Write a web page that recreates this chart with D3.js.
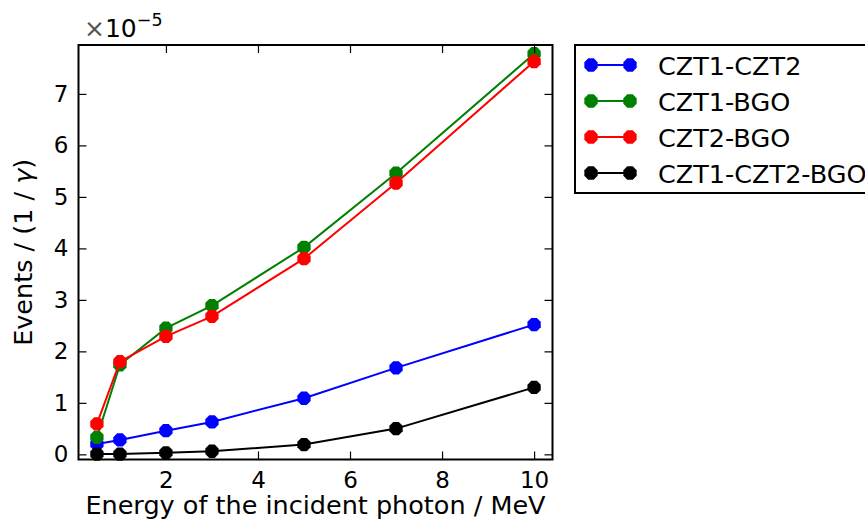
<!DOCTYPE html>
<html>
<head>
<meta charset="utf-8">
<script src="https://cdn.jsdelivr.net/npm/d3@7"></script>
<style>
  html, body { margin: 0; padding: 0; background: #fff; }
  svg { display: block; font-family: "DejaVu Sans", sans-serif; }
</style>
</head>
<body>
<svg id="chart" width="865" height="524"></svg>
<script>
// Photon energies (MeV)
const energies = [0.5, 1, 2, 3, 5, 7, 10];

// Coincidence event rates, in units of 1e-5 per incident photon
const czt1Czt2    = [0.20, 0.28, 0.46, 0.63, 1.09, 1.68, 2.52];
const czt1Bgo     = [0.33, 1.74, 2.45, 2.89, 4.02, 5.46, 7.78];
const czt2Bgo     = [0.59, 1.80, 2.29, 2.68, 3.80, 5.27, 7.63];
const czt1Czt2Bgo = [0.005, 0.005, 0.03, 0.06, 0.19, 0.50, 1.30];

const seriesNames  = ["CZT1-CZT2", "CZT1-BGO", "CZT2-BGO", "CZT1-CZT2-BGO"];
const seriesValues = [czt1Czt2, czt1Bgo, czt2Bgo, czt1Czt2Bgo];
const seriesColors = ["#0000ff", "#008000", "#ff0000", "#000000"];

const xTicks = [2, 4, 6, 8, 10];
const yTicks = [0, 1, 2, 3, 4, 5, 6, 7];

const svg = d3.select("#chart");
const plot = { left: 78.5, right: 552.5, top: 45, bottom: 459.5 };

const x = d3.scaleLinear().domain([0.1, 10.4]).range([plot.left, plot.right]);
const y = d3.scaleLinear().domain([-0.1, 7.95]).range([plot.bottom, plot.top]);

const tickLen = 8;
const tickFont = 23;
const labelFont = 25.5;

// Octagon marker path with flat top/bottom
function octagon(r) {
  const pts = d3.range(8).map(k => {
    const a = Math.PI / 8 + k * Math.PI / 4;
    return [r * Math.cos(a), r * Math.sin(a)];
  });
  return "M" + pts.map(p => p.join(",")).join("L") + "Z";
}
const markerPath = octagon(7.2);

// Series lines and markers
const line = d3.line().x((d, i) => x(energies[i])).y(d => y(d));
seriesValues.forEach((vals, s) => {
  const g = svg.append("g");
  g.append("path")
    .datum(vals)
    .attr("d", line)
    .attr("fill", "none")
    .attr("stroke", seriesColors[s])
    .attr("stroke-width", 2);
  g.selectAll("path.mk")
    .data(vals)
    .join("path")
    .attr("class", "mk")
    .attr("d", markerPath)
    .attr("transform", (d, i) => `translate(${x(energies[i])},${y(d)})`)
    .attr("fill", seriesColors[s]);
});

// Axes (ticks pointing inward on all sides)
const axisBottom = d3.axisBottom(x).tickValues(xTicks).tickSize(-tickLen).tickPadding(12).tickFormat(d3.format("d"));
const axisTop = d3.axisTop(x).tickValues(xTicks).tickSize(-tickLen).tickFormat("");
const axisLeft = d3.axisLeft(y).tickValues(yTicks).tickSize(-tickLen).tickPadding(10).tickFormat(d3.format("d"));
const axisRight = d3.axisRight(y).tickValues(yTicks).tickSize(-tickLen).tickFormat("");

function styleAxis(g) {
  g.select(".domain").remove();
  g.selectAll(".tick line").attr("stroke", "#000").attr("stroke-width", 1.2);
  g.selectAll(".tick text").attr("fill", "#000").style("font-size", tickFont + "px").style("font-family", "DejaVu Sans");
}
svg.append("g").attr("transform", `translate(0,${plot.bottom})`).call(axisBottom).call(styleAxis);
svg.append("g").attr("transform", `translate(0,${plot.top})`).call(axisTop).call(styleAxis);
svg.append("g").attr("transform", `translate(${plot.left},0)`).call(axisLeft).call(styleAxis);
svg.append("g").attr("transform", `translate(${plot.right},0)`).call(axisRight).call(styleAxis);

// Frame
svg.append("rect")
  .attr("x", plot.left).attr("y", plot.top)
  .attr("width", plot.right - plot.left).attr("height", plot.bottom - plot.top)
  .attr("fill", "none").attr("stroke", "#000").attr("stroke-width", 2);

// Axis labels
svg.append("text")
  .attr("x", (plot.left + plot.right) / 2)
  .attr("y", 514)
  .attr("text-anchor", "middle")
  .style("font-size", labelFont + "px")
  .text("Energy of the incident photon / MeV");

const yl = svg.append("text")
  .attr("transform", `translate(32,${(plot.top + plot.bottom) / 2}) rotate(-90)`)
  .attr("text-anchor", "middle")
  .style("font-size", labelFont + "px");
yl.append("tspan").text("Events / (1 / ");
yl.append("tspan").style("font-style", "italic").text("γ");
yl.append("tspan").text(")");

// Offset (scale) text above the y axis
const off = svg.append("text").attr("x", 84).attr("y", 37).style("font-size", "25px");
off.append("tspan").attr("fill", "#555").text("×");
off.append("tspan").text("10");
off.append("tspan").attr("dy", -11).style("font-size", "17.5px").text("−5");

// Legend
const lg = svg.append("g");
lg.append("rect")
  .attr("x", 575).attr("y", 45).attr("width", 300).attr("height", 148)
  .attr("fill", "#fff").attr("stroke", "#000").attr("stroke-width", 2);
seriesNames.forEach((name, s) => {
  const cy = 65 + s * 36;
  lg.append("line")
    .attr("x1", 591).attr("x2", 630).attr("y1", cy).attr("y2", cy)
    .attr("stroke", seriesColors[s]).attr("stroke-width", 2);
  [591, 630].forEach(px => {
    lg.append("path").attr("d", markerPath).attr("transform", `translate(${px},${cy})`).attr("fill", seriesColors[s]);
  });
  lg.append("text")
    .attr("x", 658).attr("y", cy + 9.5)
    .style("font-size", labelFont + "px")
    .text(name);
});
</script>
</body>
</html>
